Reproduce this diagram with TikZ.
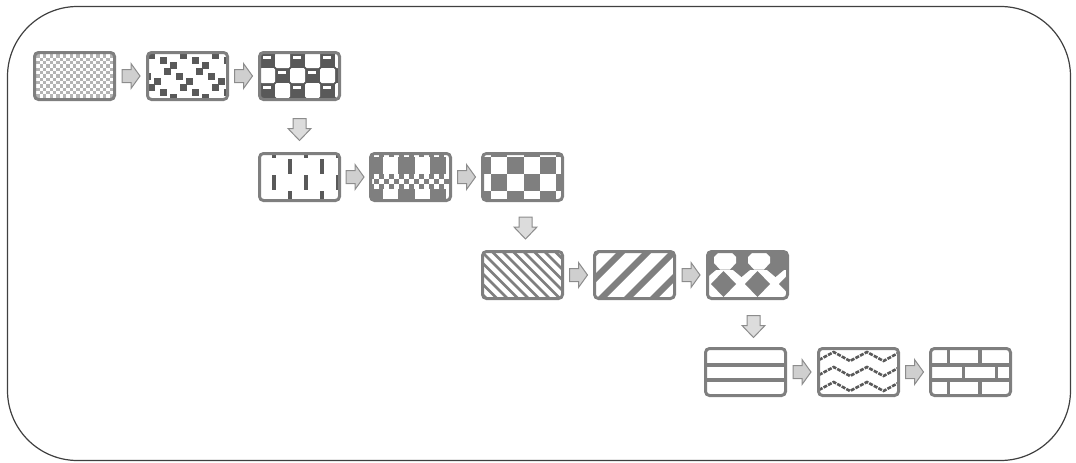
\documentclass[tikz,border=0pt]{standalone}
\usetikzlibrary{calc}
\definecolor{framec}{HTML}{404040}
\definecolor{dk}{HTML}{595959}
\definecolor{mg}{HTML}{7F7F7F}
\definecolor{chk}{HTML}{B4B4B4}
\definecolor{arrfill}{HTML}{CFCFCF}
\definecolor{darrfill}{HTML}{DCDCDC}
\definecolor{arrdraw}{HTML}{8C8C8C}

% ---------- patterns (box-local coordinates, 83 x 50) ----------
\newcommand\PatChk{%
  \foreach \i in {0,...,25}{\foreach \j in {0,...,15}{%
    \pgfmathtruncatemacro\k{mod(\i+\j,2)}%
    \ifnum\k=0 \fill[chk] (\i*3.33,\j*3.33) rectangle ++(3.33,3.33);\fi}}}
\newcommand\PatConf{%
  \foreach \j in {0,...,3}{%
    \pgfmathsetmacro\off{mod(\j,2)*16}%
    \foreach \i in {-1,...,2}{%
      \fill[dk] (\i*32+\off+2,\j*16+1) rectangle ++(7,7);
      \fill[dk] (\i*32+\off+14,\j*16+6) rectangle ++(7,7);
      \fill[dk] (\i*32+\off+24,\j*16+11) rectangle ++(7,7);}}}
\newcommand\PatSphere{%
  \fill[dk] (0,0) rectangle (83,50);
  \foreach \c in {-1,...,5}{\foreach \r in {-1,...,3}{%
    \pgfmathtruncatemacro\k{mod(\c+\r+10,2)}%
    \ifnum\k=1 \fill[white] (2+\c*15+1.5,2+\r*15) -- ++(12,0) -- ++(1.5,1.5) -- ++(0,12) -- ++(-1.5,1.5)
                 -- ++(-12,0) -- ++(-1.5,-1.5) -- ++(0,-12) -- cycle;
    \else \fill[white] (5+\c*15,5+\r*15) rectangle ++(7.5,2.5);\fi}}}
\newcommand\PatDash{%
  \foreach \x in {15.5,47.5,79.5}{\foreach \y in {-9,23}{\fill[dk] (\x-2,\y) rectangle ++(4,15);}}
  \foreach \x in {31.5,63.5}{\foreach \y in {7,39}{\fill[dk] (\x-2,\y) rectangle ++(4,15);}}}
\newcommand\PatPlaid{%
  \fill[mg] (0,0) rectangle (83,50);
  \foreach \x in {14,45.5,77}{\fill[white] (\x,0) rectangle ++(15,50);}
  \foreach \b in {-10,22}{%
    \fill[mg] (0,\b) rectangle (83,\b+15);
    \foreach \i in {0,...,16}{\foreach \j in {0,1,2}{%
      \pgfmathtruncatemacro\k{mod(\i+\j,2)}%
      \ifnum\k=1 \fill[white] (\i*5,\b+\j*5) rectangle ++(5,5);\fi}}}}
\newcommand\PatBigChk{%
  \foreach \c in {-1,...,4}{\foreach \r in {-1,...,2}{%
    \pgfmathtruncatemacro\k{mod(\c+\r+10,2)}%
    \ifnum\k=1 \fill[mg] (10+\c*16.3,5+\r*17) rectangle ++(16.3,17);\fi}}}
\newcommand\PatDnDiag{%
  \foreach \a in {-66,-55.5,...,88}{\fill[mg] (\a,0) -- (\a+3.8,0) -- (\a+63.8,60) -- (\a+60,60) -- cycle;}}
\newcommand\PatUpDiag{%
  \foreach \a in {0,26,...,160}{\fill[mg] (\a,0) -- (\a+9,0) -- (\a-51,60) -- (\a-60,60) -- cycle;}}
\newcommand\PatDiamond{%
  \fill[mg] (0,0) rectangle (83,20);
  \foreach \c in {19,53}{%
    \fill[white] (\c-6,2) -- (\c+6,2) -- (\c+11,7) -- (\c+11,13) -- (\c+5,19.5) -- (\c-5,19.5) -- (\c-11,13) -- (\c-11,7) -- cycle;}
  \foreach \c in {1.5,35.5,69.5}{\fill[mg] (\c-9,19.5) -- (\c+9,19.5) -- (\c,27) -- cycle;}
  \foreach \c in {-16.5,17.5,51.5,85.5}{%
    \fill[mg] (\c,21) -- (\c+12.5,34) -- (\c,47) -- (\c-12.5,34) -- cycle;}}
\newcommand\PatHLines{%
  \fill[mg] (0,16.25) rectangle ++(83,3.5);
  \fill[mg] (0,31.25) rectangle ++(83,3.5);}
\newcommand\PatZig{%
  \foreach \y in {9.5,24.5,39.5}{%
    \draw[dk, line width=2.6pt, dash pattern=on 4pt off 1.2pt]
      (-16.3,\y-4.5) -- (0,\y+4.5) -- (16.7,\y-4.5) -- (33,\y+4.5) -- (50,\y-4.5) -- (66.5,\y+4.5) -- (83,\y-4.5) -- (99.5,\y+4.5);}}
\newcommand\PatBrick{%
  \PatHLines
  \foreach \x in {19.3,51}{\fill[mg] (\x-1.75,0) rectangle (\x+1.75,16.25);
                           \fill[mg] (\x-1.75,34.75) rectangle (\x+1.75,50);}
  \foreach \x in {34.3,67.7}{\fill[mg] (\x-1.75,19.75) rectangle (\x+1.75,31.25);}}

% ---------- a pattern box: name, left x, top y, pattern ----------
\newcommand\PBox[4]{%
  \begin{scope}[shift={(#2,#3)}]
    \clip[rounded corners=3pt] (1.5,1.5) rectangle (81.5,48.5);
    \fill[white] (0,0) rectangle (83,50);
    #4
  \end{scope}
  \node[pbox] (#1) at (#2+41.5,#3+25) {};}

\begin{document}
\begin{tikzpicture}[x=1pt,y=-1pt,
  pbox/.style={rectangle, draw=mg, line width=3pt, rounded corners=4pt,
    minimum width=80pt, minimum height=47pt, inner sep=0pt, outer sep=0pt},
  arrowstyle/.style={fill=arrfill, draw=arrdraw, line width=1pt, line join=miter},
  darrowstyle/.style={arrowstyle, fill=darrfill},
  rarr/.pic={\filldraw[arrowstyle] (-9,-6.5) -- (0,-6.5) -- (0,-12.5) -- (9,0) -- (0,12.5) -- (0,6.5) -- (-9,6.5) -- cycle;},
  darr/.pic={\filldraw[darrowstyle] (-6.5,-11) -- (6.5,-11) -- (6.5,-1) -- (11.5,-1) -- (0,11) -- (-11.5,-1) -- (-6.5,-1) -- cycle;}]
\useasboundingbox (0,0) rectangle (1076,463);
\draw[framec, line width=1.2pt, rounded corners=70pt] (7.5,6.5) rectangle (1070.5,460.5);

% row 1
\PBox{b1}{33}{51}{\PatChk}
\PBox{b2}{146}{51}{\PatConf}
\PBox{b3}{258}{51}{\PatSphere}
% row 2
\PBox{b4}{258}{152}{\PatDash}
\PBox{b5}{369}{152}{\PatPlaid}
\PBox{b6}{481}{152}{\PatBigChk}
% row 3
\PBox{b7}{481}{250}{\PatDnDiag}
\PBox{b8}{593}{250}{\PatUpDiag}
\PBox{b9}{706}{250}{\PatDiamond}
% row 4
\PBox{b10}{704}{347}{\PatHLines}
\PBox{b11}{817}{347}{\PatZig}
\PBox{b12}{929}{347}{\PatBrick}

% arrows
\pic at ($(b1.east)!0.5!(b2.west)$) {rarr};
\pic at ($(b2.east)!0.5!(b3.west)$) {rarr};
\pic at ($(b4.east)!0.5!(b5.west)$) {rarr};
\pic at ($(b5.east)!0.5!(b6.west)$) {rarr};
\pic at ($(b7.east)!0.5!(b8.west)$) {rarr};
\pic at ($(b8.east)!0.5!(b9.west)$) {rarr};
\pic at ($(b10.east)!0.5!(b11.west)$) {rarr};
\pic at ($(b11.east)!0.5!(b12.west)$) {rarr};
\pic at ($($(b3.south)!0.5!(b4.north)$)+(0,3)$) {darr};
\pic at ($($(b6.south)!0.5!(b7.north)$)+(3,2)$) {darr};
\pic at ($($(b9.south)!0.5!(b10.north)$)+(7,3)$) {darr};
\end{tikzpicture}
\end{document}
